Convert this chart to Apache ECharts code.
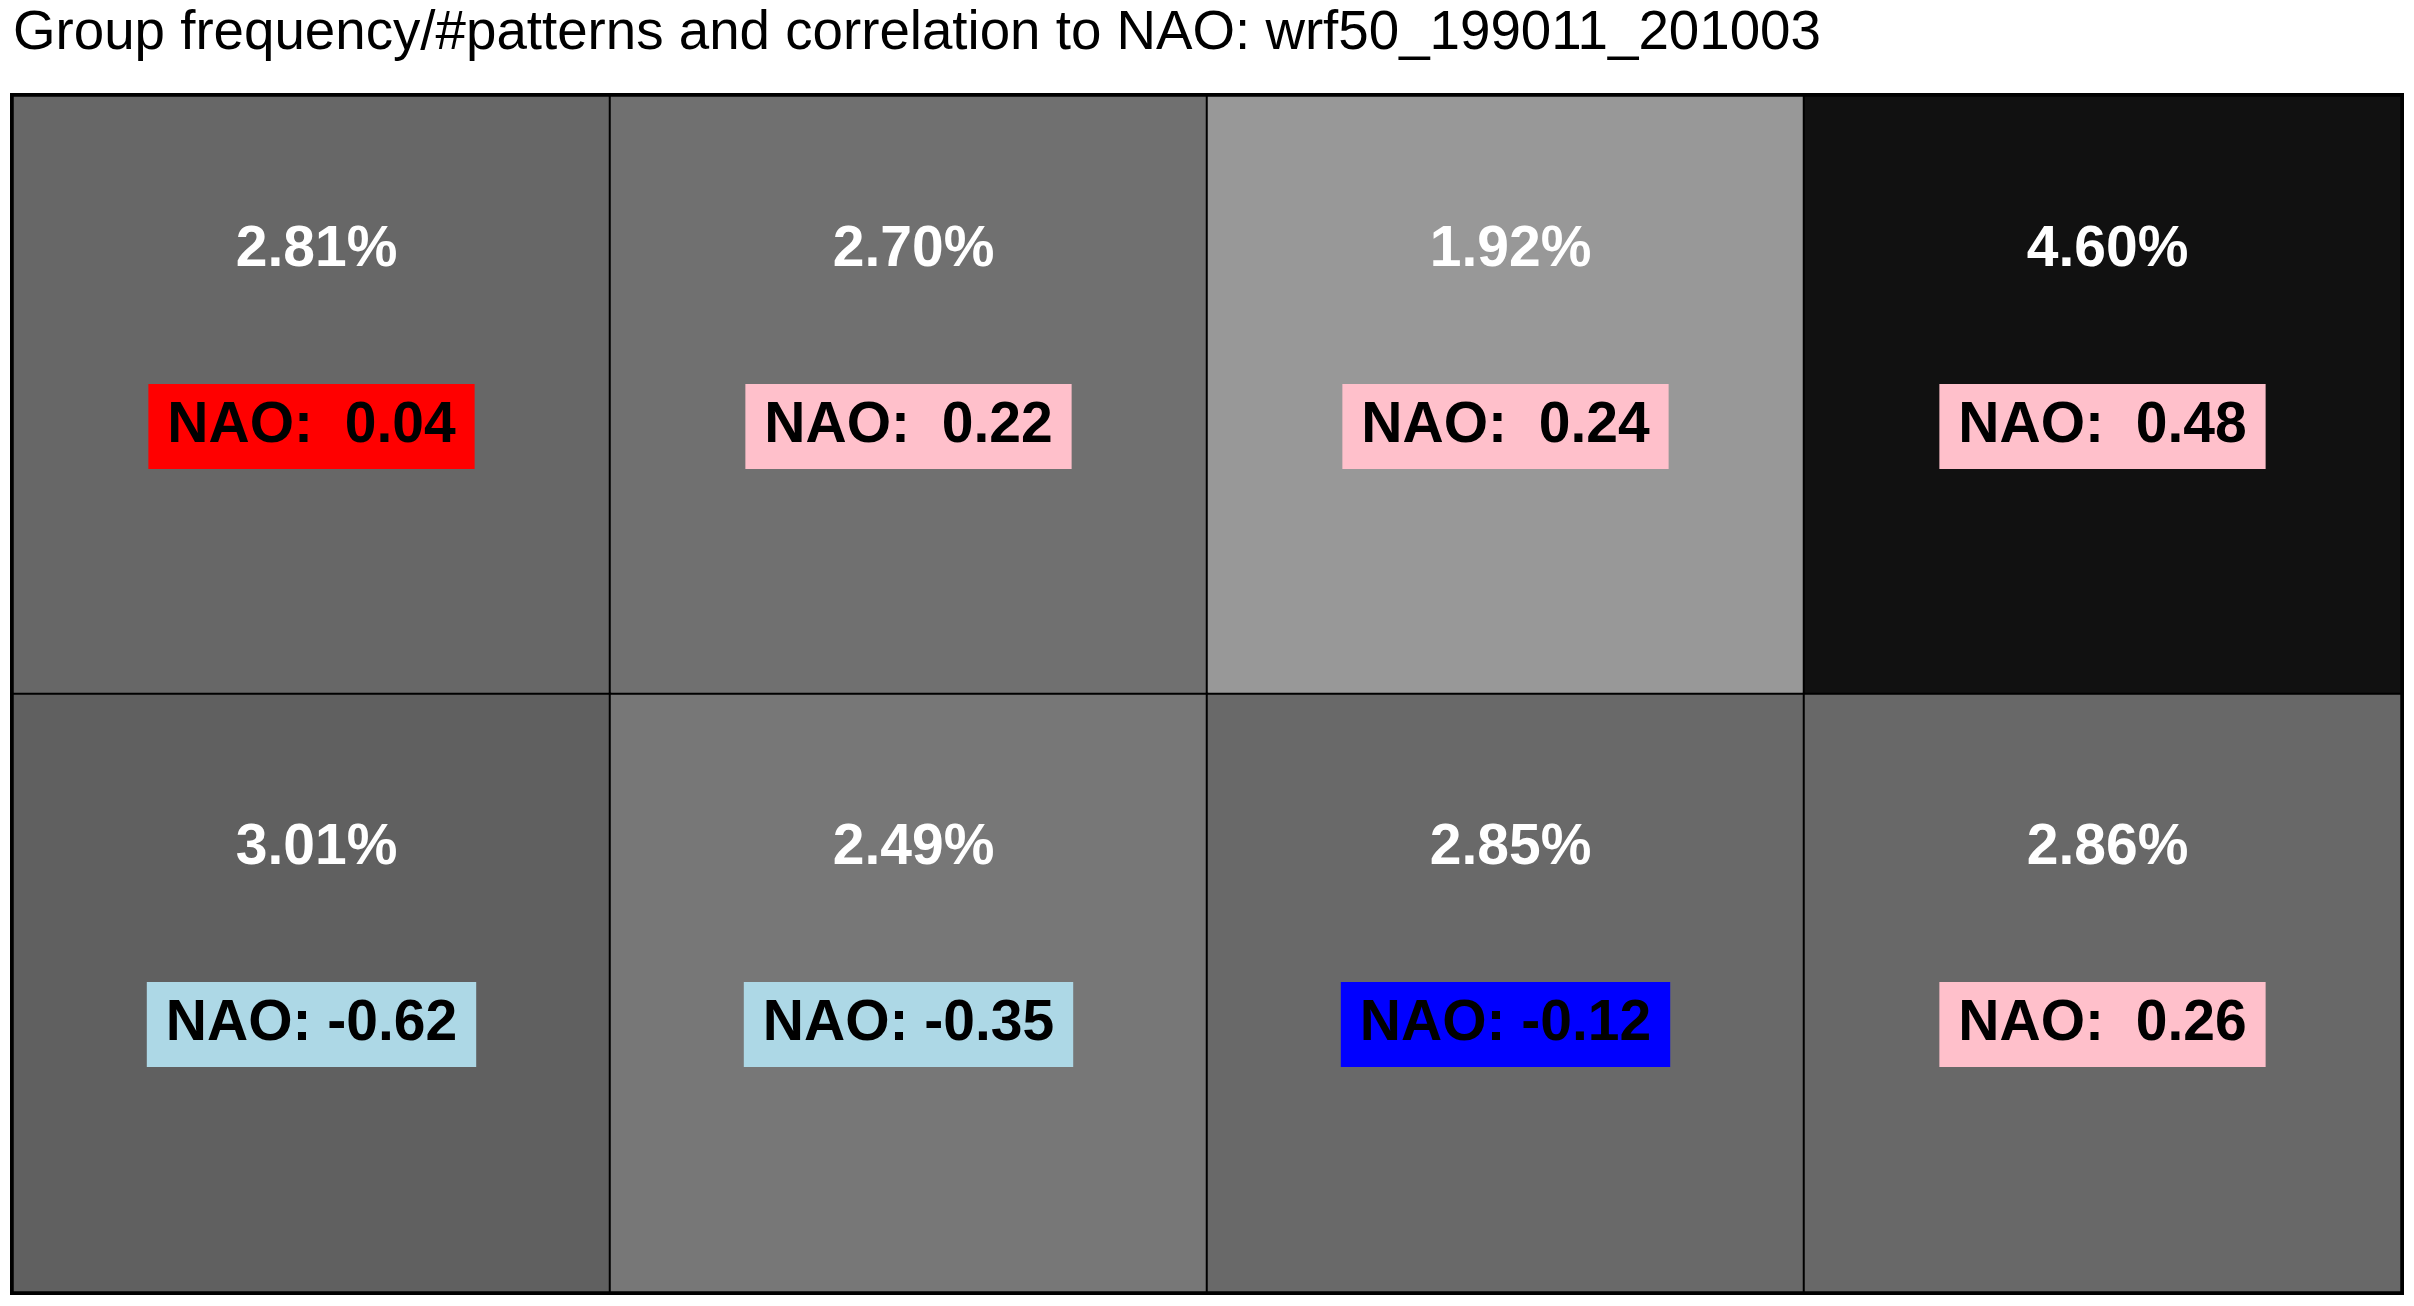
<!DOCTYPE html>
<html>
<head>
<meta charset="utf-8">
<script src="https://cdn.jsdelivr.net/npm/echarts@6/dist/echarts.min.js"></script>
<style>
html,body{margin:0;padding:0;background:#fff;}
#chart{width:2414px;height:1306px;}
</style>
</head>
<body>
<div id="chart"></div>
<script>
// ---- data ----
var columns = ['c1', 'c2', 'c3', 'c4'];
var rows = ['r1', 'r2'];
var titleText = 'Group frequency/#patterns and correlation to NAO: wrf50_199011_201003';
// group frequency (%) per cell, row-major (top row, then bottom row)
var frequency = [2.81, 2.70, 1.92, 4.60, 3.01, 2.49, 2.85, 2.86];
// correlation to NAO per cell
var naoCorr = [0.04, 0.22, 0.24, 0.48, -0.62, -0.35, -0.12, 0.26];

// ---- styles ----
var cellShades = ['#676767', '#707070', '#989898', '#111111', '#606060', '#777777', '#696969', '#686868'];
var naoBoxStyle = ['red', 'pink', 'pink', 'pink', 'lb', 'lb', 'blue', 'pink'];

var FONT = '"Liberation Sans", Arial, Helvetica, sans-serif';

var data = [];
for (var i = 0; i < frequency.length; i++) {
  var cx = i % columns.length;
  var cy = Math.floor(i / columns.length);
  data.push({
    value: [cx, cy, frequency[i], naoCorr[i], i],
    itemStyle: { color: cellShades[i] }
  });
}

function boxStyle(bg) {
  return {
    fontFamily: FONT, fontSize: 57, fontWeight: 'bold', color: '#000',
    backgroundColor: bg, padding: [14, 19, 14, 19], lineHeight: 57
  };
}

var chart = echarts.init(document.getElementById('chart'), null, { renderer: 'canvas' });
chart.setOption({
  backgroundColor: '#ffffff',
  animation: false,
  title: {
    text: titleText,
    left: 8,
    top: 1,
    textStyle: { fontFamily: FONT, fontSize: 54.7, fontWeight: 'normal', color: '#000' }
  },
  grid: {
    left: 13, top: 96, width: 2388, height: 1196,
    show: true, borderColor: '#000', borderWidth: 6, backgroundColor: 'transparent'
  },
  xAxis: {
    type: 'category', data: columns, show: false
  },
  yAxis: {
    type: 'category', data: rows, show: false, inverse: true
  },
  series: [{
    type: 'heatmap',
    data: data,
    itemStyle: { borderColor: '#000', borderWidth: 2 },
    emphasis: { disabled: true },
    label: {
      show: true,
      offset: [0, -57.5],
      formatter: function (p) {
        var f = p.value[2];
        var n = p.value[3];
        var idx = p.value[4];
        var nTxt = 'NAO: ' + (n >= 0 ? ' ' : '') + n.toFixed(2);
        return '{p|' + f.toFixed(2) + '%}\n{s| }\n{' + naoBoxStyle[idx] + '|' + nTxt + '}';
      },
      rich: {
        p: { fontFamily: FONT, fontSize: 57, fontWeight: 'bold', color: '#fff', lineHeight: 60, padding: [0, 0, 0, 10] },
        s: { fontSize: 1, lineHeight: 118 },
        red: boxStyle('#ff0000'),
        pink: boxStyle('#ffc0cb'),
        lb: boxStyle('#add8e6'),
        blue: boxStyle('#0000ff')
      }
    }
  }]
});
</script>
</body>
</html>
